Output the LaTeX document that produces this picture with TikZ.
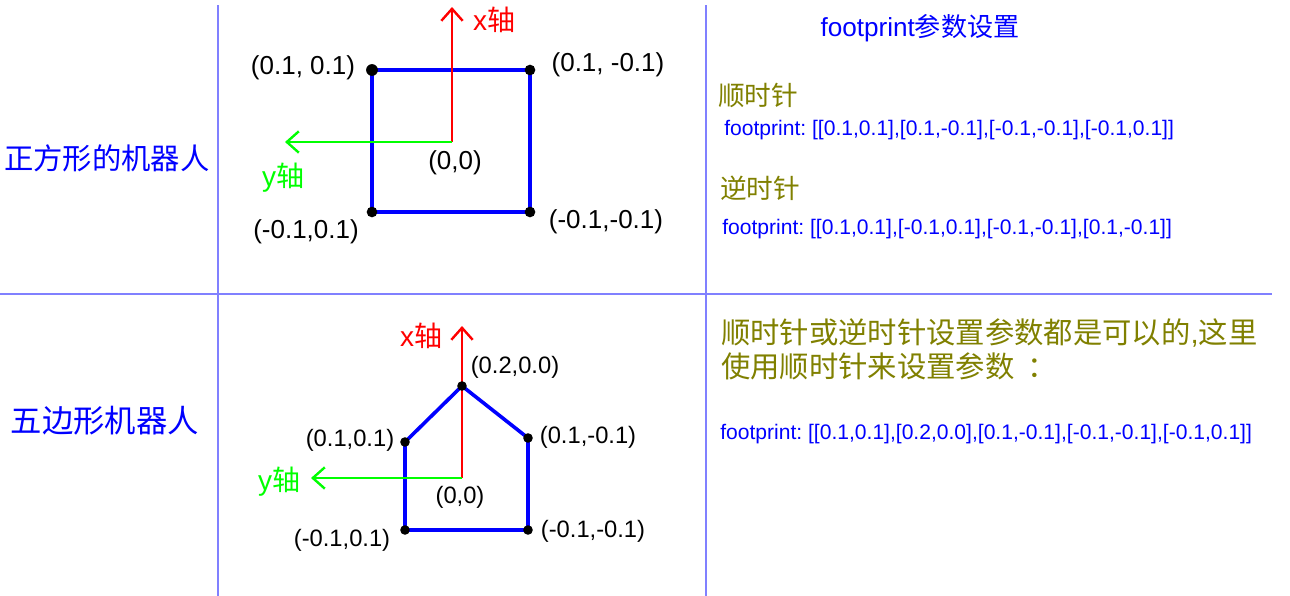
\documentclass[tikz,border=0pt]{standalone}
\usepackage{fontspec}
\setmainfont{Liberation Sans}
\newfontfamily\cjk{Noto Sans CJK SC}
\usetikzlibrary{arrows.meta}
\definecolor{divc}{HTML}{8080FF}
\definecolor{olivec}{HTML}{808000}
\definecolor{bluec}{HTML}{0000FF}
\definecolor{redc}{HTML}{FF0000}
\definecolor{greenc}{HTML}{00FF00}
\frenchspacing
\begin{document}
\begin{tikzpicture}[x=0.75pt,y=-0.75pt,
  divider/.style={draw=divc,line width=1.6pt},
  robot/.style={draw=bluec,line width=3.6pt,line join=miter},
  robotb/.style={draw=bluec,line width=2.7pt,line join=round},
  xaxis/.style={draw=redc,line width=2.2pt,-{Straight Barb[length=9pt,width=16pt,line width=1.8pt]}},
  yaxis/.style={draw=greenc,line width=2.2pt,-{Straight Barb[length=9pt,width=16pt,line width=1.8pt]}},
  dot/.style={fill=black},
  coordA/.style={inner sep=0,font=\fontsize{19.5}{22}\selectfont},
  coordB/.style={inner sep=0,font=\fontsize{17.8}{20}\selectfont},
  axlab/.style={inner sep=0,font=\fontsize{21}{24}\selectfont},
  rowlab/.style={inner sep=0,text=bluec},
  fp/.style={inner sep=0,anchor=west,text=bluec,font=\fontsize{15.8}{18}\selectfont},
  olv/.style={inner sep=0,anchor=west,text=olivec},
]
\useasboundingbox (0,0) rectangle (1290,596);
% dividers
\coordinate (v1t) at (218,5);   \coordinate (v1b) at (218,596);
\coordinate (v2t) at (706,5);   \coordinate (v2b) at (706,596);
\coordinate (hl) at (0,294);    \coordinate (hr) at (1272,294);
\draw[divider] (v1t) -- (v1b);
\draw[divider] (v2t) -- (v2b);
\draw[divider] (hl) -- (hr);

% row labels
\node[rowlab,font=\fontsize{22}{26}\selectfont\cjk] (lab1) at (107,158) {正方形的机器人};
\node[rowlab,font=\fontsize{23.5}{28}\selectfont\cjk] (lab2) at (105,421) {五边形机器人};

% ===== square robot =====
\coordinate (s1) at (372,70);
\coordinate (s2) at (530,70);
\coordinate (s3) at (530,212);
\coordinate (s4) at (372,212);
\draw[robot] (s1) -- (s2) -- (s3) -- (s4) -- cycle;
\coordinate (o1) at (452,142);
\coordinate (x1) at (452,7);
\coordinate (y1) at (285,142);
\draw[xaxis] (o1) -- (x1);
\draw[yaxis] (o1) -- (y1);
\fill[dot] (s1) circle[radius=4.4pt];
\foreach \p in {s2,s3,s4} \fill[dot] (\p) circle[radius=4pt];
\node[axlab,text=redc] (xl1) at (494,20) {x{\cjk 轴}};
\node[axlab,text=greenc] (yl1) at (283,178) {y{\cjk 轴}};
\node[coordA] (c0a) at (455,163) {(0,0)};
\node[coordA] (c1a) at (303,68) {(0.1, 0.1)};
\node[coordA] (c2a) at (608,65) {(0.1, -0.1)};
\node[coordA] (c3a) at (306,232) {(-0.1,0.1)};
\node[coordA] (c4a) at (606,222) {(-0.1,-0.1)};

% ===== pentagon robot =====
\coordinate (p0) at (462,386);
\coordinate (p1) at (528,438);
\coordinate (p2) at (528,530);
\coordinate (p3) at (405,530);
\coordinate (p4) at (405,442);
\draw[robotb] (p0) -- (p1) -- (p2) -- (p3) -- (p4) -- cycle;
\coordinate (o2) at (462,478);
\coordinate (x2) at (462,326);
\coordinate (y2) at (311,478);
\draw[xaxis] (o2) -- (x2);
\draw[yaxis] (o2) -- (y2);
\foreach \p in {p0,p1,p2,p3,p4} \fill[dot] (\p) circle[radius=3.6pt];
\node[axlab,text=redc] (xl2) at (421,336) {x{\cjk 轴}};
\node[axlab,text=greenc] (yl2) at (279,482) {y{\cjk 轴}};
\node[coordB] (c0b) at (460,497) {(0,0)};
\node[coordB] (c5b) at (515,367) {(0.2,0.0)};
\node[coordB] (c1b) at (350,440) {(0.1,0.1)};
\node[coordB] (c2b) at (588,437) {(0.1,-0.1)};
\node[coordB] (c3b) at (342,540) {(-0.1,0.1)};
\node[coordB] (c4b) at (593,531) {(-0.1,-0.1)};

% ===== right column =====
\node[inner sep=0,text=bluec,font=\fontsize{19.6}{22}\selectfont] (title) at (920,28) {footprint{\cjk 参数设置}};
\node[olv,font=\fontsize{20}{24}\selectfont\cjk] (cw) at (718,95) {顺时针};
\node[fp] (fp1) at (724,130) {footprint: [[0.1,0.1],[0.1,-0.1],[-0.1,-0.1],[-0.1,0.1]]};
\node[olv,font=\fontsize{20}{24}\selectfont\cjk] (ccw) at (720,188) {逆时针};
\node[fp] (fp2) at (722,229) {footprint: [[0.1,0.1],[-0.1,0.1],[-0.1,-0.1],[0.1,-0.1]]};
\node[olv,font=\fontsize{22}{26}\selectfont] (note1) at (721,333) {{\cjk 顺时针或逆时针设置参数都是可以的},{\cjk 这里}};
\node[olv,font=\fontsize{22}{26}\selectfont] (note2) at (721,366) {{\cjk 使用顺时针来设置参数}\hspace{0.45em}{\cjk ：}};
\node[fp] (fp3) at (720,434) {footprint: [[0.1,0.1],[0.2,0.0],[0.1,-0.1],[-0.1,-0.1],[-0.1,0.1]]};
\end{tikzpicture}
\end{document}
